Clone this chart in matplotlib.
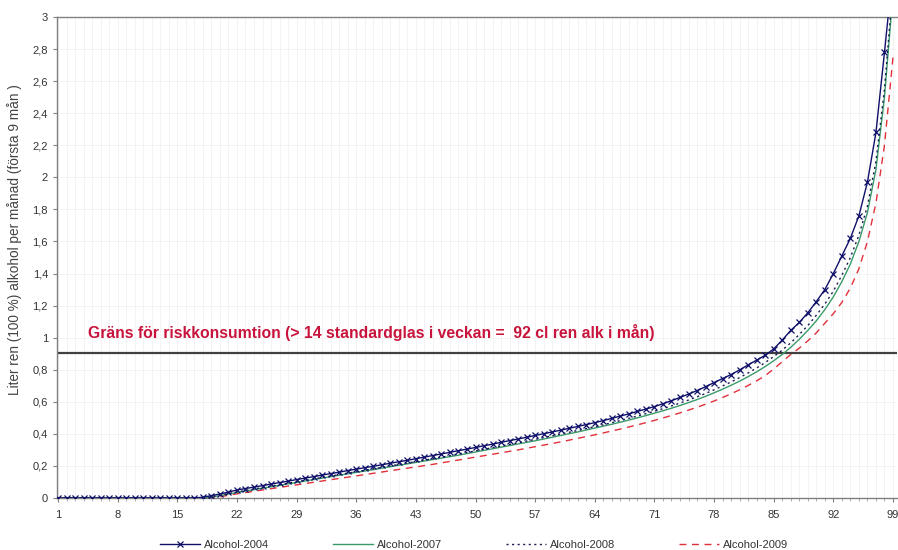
import matplotlib
matplotlib.use("Agg")
import matplotlib.pyplot as plt
from matplotlib.ticker import FuncFormatter, MultipleLocator

plt.rcParams['font.family'] = ['Liberation Sans', 'DejaVu Sans']

x_vals = list(range(1, 100))
x_ticks = [1, 8, 15, 22, 29, 36, 43, 50, 57, 64, 71, 78, 85, 92, 99]

alc_2004 = [0.0]*17 + [
    0.005, 0.015, 0.025, 0.037, 0.05, 0.059, 0.068, 0.077, 0.087, 0.096,
    0.105, 0.115, 0.124, 0.133, 0.143, 0.152, 0.161, 0.171, 0.18, 0.189,
    0.198, 0.207, 0.217, 0.226, 0.235, 0.245, 0.255, 0.265, 0.275, 0.285,
    0.295, 0.305, 0.315, 0.326, 0.336, 0.347, 0.358, 0.368, 0.379, 0.39,
    0.401, 0.412, 0.423, 0.435, 0.446, 0.458, 0.47, 0.483, 0.497, 0.511,
    0.525, 0.54, 0.555, 0.57, 0.588, 0.607, 0.627, 0.648, 0.67, 0.694,
    0.72, 0.745, 0.77, 0.799, 0.83, 0.86, 0.89, 0.93, 0.985, 1.045,
    1.095, 1.155, 1.225, 1.30, 1.40, 1.51, 1.62, 1.76, 1.97, 2.28,
    2.78, 3.30]

alc_2007 = [0.0]*18 + [
    0.006, 0.015, 0.025, 0.034, 0.043, 0.052, 0.061, 0.07, 0.079, 0.088,
    0.097, 0.106, 0.115, 0.124, 0.133, 0.142, 0.151, 0.16, 0.168, 0.177,
    0.186, 0.195, 0.204, 0.213, 0.222, 0.231, 0.24, 0.249, 0.258, 0.267,
    0.277, 0.287, 0.297, 0.307, 0.317, 0.327, 0.337, 0.347, 0.357, 0.368,
    0.379, 0.39, 0.401, 0.412, 0.424, 0.436, 0.448, 0.46, 0.473, 0.486,
    0.50, 0.514, 0.529, 0.544, 0.56, 0.577, 0.595, 0.614, 0.634, 0.656,
    0.679, 0.703, 0.729, 0.757, 0.787, 0.82, 0.856, 0.895, 0.94, 0.99,
    1.045, 1.105, 1.175, 1.255, 1.35, 1.46, 1.60, 1.78, 2.05, 2.50,
    3.15]

alc_2008 = [0.0]*18 + [
    0.008, 0.018, 0.028, 0.038, 0.047, 0.056, 0.065, 0.074, 0.083, 0.092,
    0.101, 0.110, 0.119, 0.128, 0.137, 0.146, 0.155, 0.164, 0.173, 0.182,
    0.191, 0.200, 0.209, 0.218, 0.227, 0.236, 0.245, 0.254, 0.264, 0.274,
    0.284, 0.294, 0.304, 0.314, 0.324, 0.334, 0.344, 0.355, 0.366, 0.377,
    0.388, 0.399, 0.41, 0.421, 0.433, 0.445, 0.457, 0.47, 0.483, 0.497,
    0.511, 0.526, 0.541, 0.557, 0.574, 0.592, 0.611, 0.631, 0.652, 0.675,
    0.699, 0.724, 0.751, 0.78, 0.811, 0.845, 0.882, 0.922, 0.968, 1.02,
    1.075, 1.14, 1.21, 1.29, 1.39, 1.50, 1.64, 1.82, 2.10, 2.55,
    3.20]

alc_2009 = [0.0]*19 + [
    0.008, 0.017, 0.026, 0.034, 0.042, 0.05, 0.058, 0.066, 0.074, 0.082,
    0.09, 0.098, 0.106, 0.114, 0.122, 0.13, 0.138, 0.146, 0.154, 0.162,
    0.17, 0.178, 0.186, 0.194, 0.202, 0.21, 0.219, 0.228, 0.237, 0.246,
    0.255, 0.264, 0.273, 0.282, 0.291, 0.30, 0.31, 0.32, 0.33, 0.34,
    0.35, 0.361, 0.372, 0.383, 0.394, 0.406, 0.418, 0.43, 0.443, 0.456,
    0.47, 0.484, 0.499, 0.515, 0.531, 0.548, 0.566, 0.585, 0.605, 0.627,
    0.65, 0.675, 0.702, 0.731, 0.763, 0.805, 0.85, 0.895, 0.935, 0.98,
    1.03, 1.09, 1.15, 1.22, 1.31, 1.43, 1.60, 1.84, 2.20, 2.75]

limit_value = 0.905
limit_text = "Gräns för riskkonsumtion (> 14 standardglas i veckan =  92 cl ren alk i mån)"
y_label = "Liter ren (100 %) alkohol per månad (första 9 mån )"

fig = plt.figure(figsize=(8.98, 5.5), dpi=100)
ax = fig.add_axes([57/898, 1-498/550, (897-57)/898, (498-17)/550])

# faint grid
for xv in x_vals:
    ax.axvline(xv, color='#f1f1f1', lw=0.6, zorder=0)
ax.yaxis.set_major_locator(MultipleLocator(0.2))
ax.grid(axis='y', color='#f3f3f3', lw=0.6, zorder=0)

ax.axhline(limit_value, color='#404040', lw=1.6, zorder=2)

ax.plot(x_vals, alc_2009, color='#e0303a', lw=1.0, ls=(0, (5, 4)), label='Alcohol-2009', zorder=3)
ax.plot(x_vals, alc_2007, color='#3a9a6a', lw=1.0, ls='-', label='Alcohol-2007', zorder=3)
ax.plot(x_vals, alc_2008, color='#1a1a50', lw=1.0, ls=(0, (1.5, 2.5)), label='Alcohol-2008', zorder=3)
ax.plot(x_vals, alc_2004, color='#10106a', lw=1.0, marker='x', ms=4, mew=0.9,
        label='Alcohol-2004', zorder=4)

ax.text(4.5, 1.035, limit_text, color='#c8143c', fontsize=11.3, fontweight='bold',
        va='center', ha='left', zorder=5)

ax.set_xlim(0.88, 99.47)
ax.set_ylim(0, 3)
ax.set_xticks(x_ticks)
ax.set_xticklabels([str(t) for t in x_ticks])
ax.set_xticks(x_vals, minor=True)
ax.yaxis.set_major_formatter(FuncFormatter(lambda v, p: ('%g' % round(v, 1)).replace('.', ',')))

for s in ['left', 'bottom', 'top']:
    ax.spines[s].set_color('#808080')
    ax.spines[s].set_linewidth(1.0)
ax.spines['right'].set_visible(False)
ax.tick_params(axis='both', colors='#808080', labelcolor='#333333', labelsize=8, length=3, direction='out')
ax.tick_params(axis='x', which='minor', length=2, colors='#a0a0a0')
ax.tick_params(axis='x', pad=6)

fig.text(0.016, 0.564, y_label, rotation=90, va='center', ha='center', fontsize=9.8, color='#444444')

handles, labels = ax.get_legend_handles_labels()
order = [3, 1, 2, 0]
fig.legend([handles[i] for i in order], [labels[i] for i in order], loc='center',
           bbox_to_anchor=(0.528, 0.01), ncol=4, frameon=False, fontsize=8,
           handlelength=3.6, columnspacing=5.8, handletextpad=0.3, labelcolor='#333333')

fig.savefig('out.png', dpi=100)
